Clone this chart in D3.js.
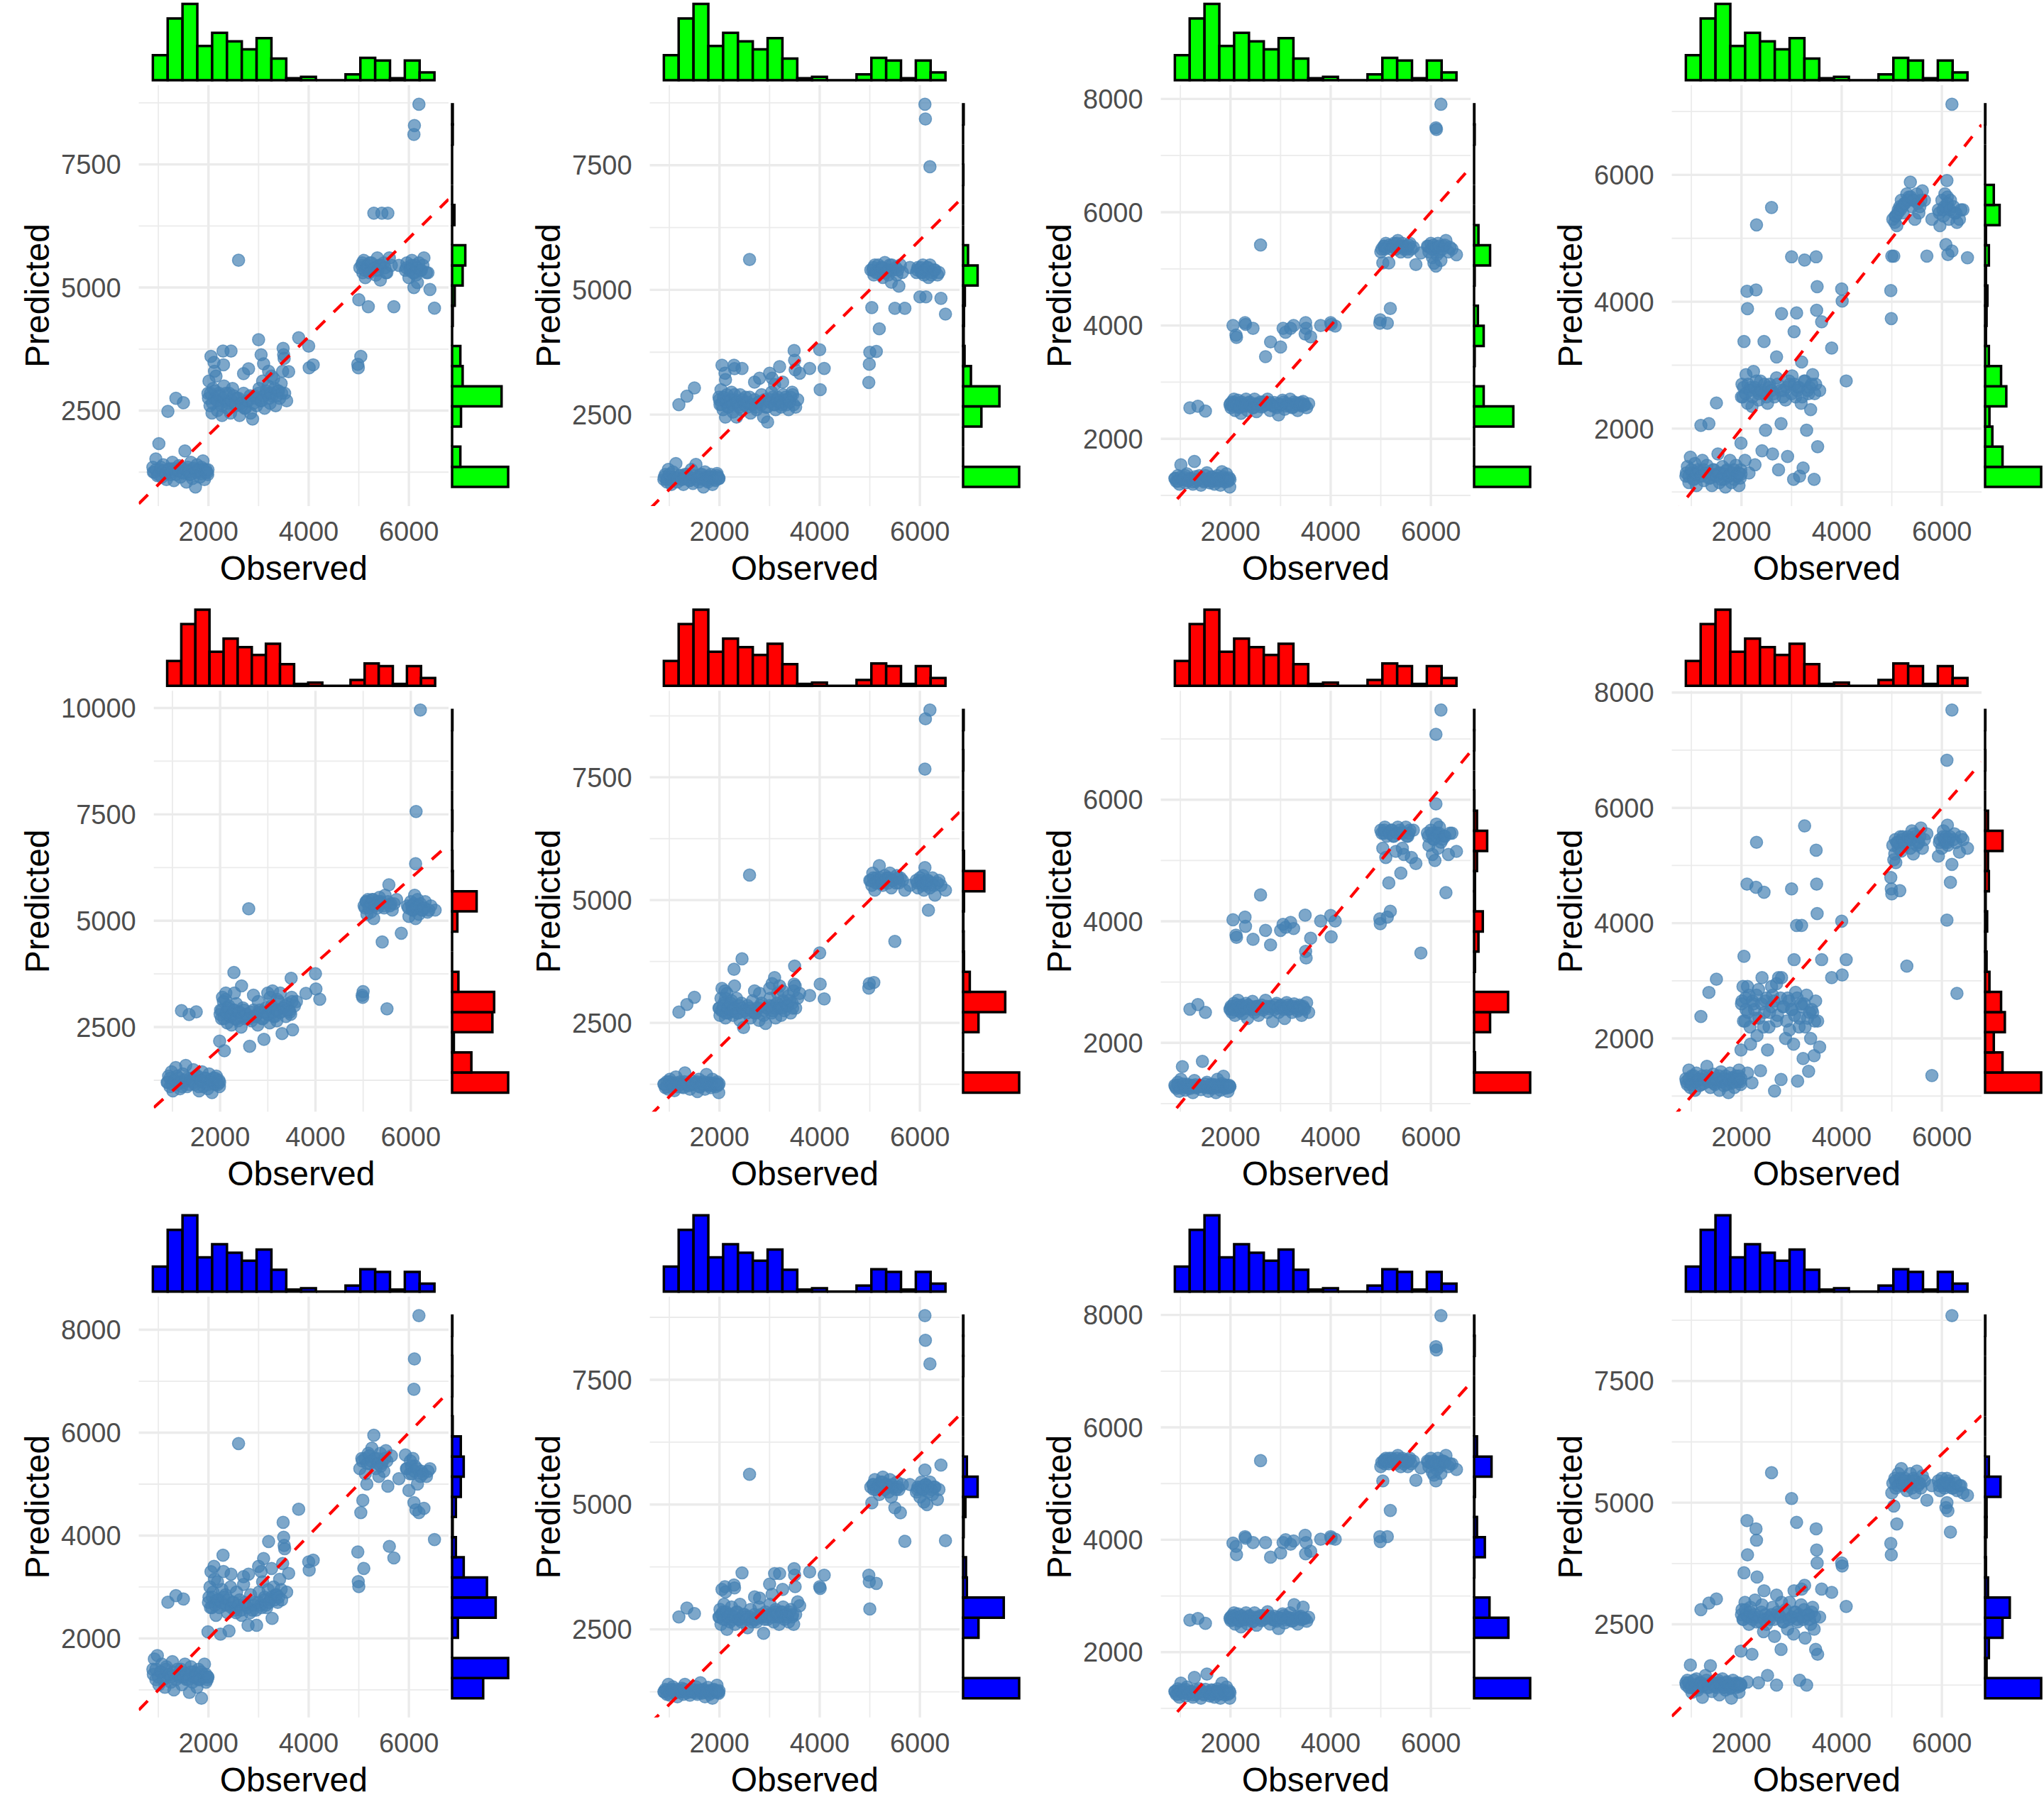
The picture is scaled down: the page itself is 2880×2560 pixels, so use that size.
<!DOCTYPE html>
<html><head><meta charset="utf-8">
<script src="https://cdn.jsdelivr.net/npm/d3@7"></script>
<style>
body{margin:0;background:#fff}
svg{display:block}
text{font-family:"Liberation Sans", Arial, Helvetica, sans-serif}
</style>
</head><body>
<svg id="chart" width="2880" height="2560"></svg>
<script>
// ---------------- DATA ----------------
// Observed values, grouped (same observations in every panel)
const obsLow      = [890,920,950,980,1010,1040,1070,1100,1130,1160,1220,1250,1280,1310,1380,1410,1440,1470,1530,1560,1590,1620,1650,1680,1710,1740,1770,1800,1830,1860,1890,1920,1950,1985];
const obsLowHigh  = [1190,1350,1500];
const obsMid      = [1990,2010,2030,2070,2090,2120,2150,2180,2210,2240,2270,2310,2340,2380,2410,2440,2480,2520,2560,2620,2660,2700,2740,2790,2840,2880,2920,2960,3010,3040,3080,3120,3160,3190,3230,3270,3300,3340,3380,3420,3450,3480,3520,3560];
const obsMidUpper = [2050,2110,2120,2290,2300,2450,2700,2800,3000,3050,3100,3200,3260,3490,3500,3510];
const obsGap      = [3600,3800,4000,4010,4090];
const obsOutlier  = [2600];
const obsHigh     = [4980,4990,5000,5040,5060,5080,5100,5130,5160,5190,5220,5260,5300,5340,5370,5400,5430,5460,5500,5540,5580,5610,5700,5800,5930,5960,6000,6030,6060,6080,6100,6120,6140,6170,6200,6250,6300,6350,6420,6510];
const obsTop      = [6100,6110,6200];
const obsLowCore  = [900,950,1000,1050,1100,1150,1200,1250,1300,1350,1400,1450,1500,1550,1600,1650,1700,1750,1800,1850,1900,1950,1975,1990];
const obsMidCore  = [2000,2040,2080,2130,2170,2220,2260,2300,2350,2400,2460,2500,2550,2600,2650,2720,2780,2830,2900,2950,3000,3060,3110,3150,3210,3250,3320,3360,3400,3460];
const obsHighCore = [5020,5070,5120,5170,5210,5250,5320,5380,5440,5520,5560,5650,5950,6020,6050,6110,6160,6230,6280,6380];
const obsGroups = [obsLow, obsLowHigh, obsMid, obsMidUpper, obsGap, obsOutlier, obsHigh, obsTop, obsLowCore, obsMidCore, obsHighCore];

// Predicted values per panel (same group order as the first eight obs groups)
const pred1 = [
 [1350,1250,1520,1180,1830,1300,1150,1400,1230,1100,1320,1200,1450,1080,1280,1380,1150,1250,1680,1050,1350,1200,1450,1120,1300,950,1400,1250,1150,1350,1480,1100,1300,1200],
 [2485,2750,2660],
 [2850,3100,2600,2450,2950,2750,3200,2500,2850,2650,2400,3000,2700,2550,2850,2450,2950,2650,2750,2400,2600,2850,2550,2700,2450,2330,2800,2600,2950,2700,3100,2550,2850,3000,2650,2800,3150,2600,2900,2750,3050,3300,2850,2700],
 [3600,3480,3300,3710,3430,3710,3250,3350,3940,3635,3450,3300,3200,3765,3635,3560],
 [3290,3980,3810,3370,3430],
 [5553],
 [3440,3370,4750,3600,5450,5300,5550,5200,5400,4610,5500,5350,6510,5250,5600,5450,5150,6510,5500,5300,6510,5600,4610,5450,5350,5500,5200,5400,5550,5300,5000,5450,5250,5100,5500,5350,5600,5300,4960,4580],
 [8107,8290,8720]];
const pred2 = [
 [1200,1300,1150,1400,1250,1100,1350,1200,1520,1150,1280,1200,1100,1300,1250,1180,1400,1120,1500,1250,1150,1300,1200,1050,1350,1250,1150,1200,1300,1100,1250,1180,1320,1220],
 [2700,2870,3035],
 [2850,2700,3000,2600,2800,2450,2900,2650,2750,2950,2550,2800,2450,2700,2900,2600,2750,2850,2650,2530,2700,2800,2600,2750,2900,2450,2650,2350,2800,2950,2700,2600,2850,2750,2650,2900,2800,2700,2600,2850,2950,2700,2650,2800],
 [3490,3330,3200,3490,3420,3425,3150,3230,3330,3230,3100,3460,3150,3784,3590,3400],
 [3330,3426,3800,3000,3426],
 [5610],
 [3145,3510,3750,4645,5400,5300,5500,3765,5350,4220,5450,5250,5550,5400,5300,5500,5154,5400,4630,5300,5075,5500,4630,5450,5350,5450,4860,5350,5500,5300,5400,4860,5450,5250,5500,5350,5400,5300,4830,4515],
 [8720,8426,7468]];
const pred3 = [
 [1300,1250,1350,1200,1540,1280,1320,1220,1380,1260,1300,1200,1600,1250,1350,1180,1300,1240,1400,1280,1220,1330,1260,1200,1300,1350,1250,1180,1420,1300,1240,1380,1280,1150],
 [2546,2575,2489],
 [2600,2550,2650,2700,2500,2600,2680,2550,2450,2620,2580,2700,2500,2650,2600,2550,2700,2480,2620,2560,2650,2600,2700,2500,2580,2640,2550,2420,2600,2680,2520,2620,2590,2700,2550,2650,2600,2500,2620,2580,2660,2600,2550,2620],
 [4000,3830,3790,4050,4020,3950,3450,3710,3620,3950,3880,3950,4000,3850,4050,3950],
 [3800,4000,4050,4020,3990],
 [5421],
 [4041,4099,5300,5105,5400,5350,5450,4041,5105,4300,5400,5450,5350,5500,5400,5300,5450,5350,5400,5300,5450,5350,5076,5280,5400,5300,5450,5200,5100,5350,5050,5250,5450,5300,5150,5400,5500,5300,5350,5250],
 [7491,7462,7905]];
const pred4 = [
 [1250,1400,1150,1550,1300,1200,1450,1100,1350,1250,1500,1180,1300,1420,1220,1100,1350,1270,1600,1150,1300,1400,1200,1080,1350,1250,1500,1150,1300,1200,1420,1250,1100,1350],
 [2050,2078,2404],
 [1770,2700,2500,1500,2850,2400,1300,2650,2350,2900,1430,2600,2450,2750,1650,2550,1974,2400,2700,1600,2500,2800,1350,2078,2600,2450,1560,2700,2830,1200,2500,2650,1250,2400,1380,2750,1974,2550,2300,2850,1200,2700,1715,2600],
 [3373,4165,3890,4186,5212,3373,3130,3813,4709,3528,3823,3050,4657,4709,3865,4238],
 [3683,3269,4201,4010,2751],
 [5486],
 [4176,3735,4720,4720,5250,5350,5200,5450,5500,5600,5400,5550,5700,5650,5885,5500,5600,5300,5700,5400,5600,5750,4720,5300,5450,5200,5600,5350,5700,4900,5500,4745,5300,5600,4800,5400,5250,5300,5450,4694],
 [5911,5650,7113]];
const pred5 = [
 [1200,1350,1100,1450,1000,1250,1550,1150,1300,1050,1400,1200,1600,1100,1300,1250,1500,1150,1350,1000,1250,1450,1100,1300,1200,1050,1400,1250,960,1300,1150,1350,1200,1100],
 [2886,2796,2859],
 [2170,2900,2700,3100,1944,2800,2600,3000,2750,2550,2900,2700,3050,2650,2850,2500,2950,2700,2800,2050,2650,2900,2750,2550,2850,2700,2213,2950,2800,2600,3000,2750,2900,2650,3100,2850,2347,2950,2750,3050,2900,2800,2437,3000],
 [3200,3150,3300,3783,3300,3469,3250,3100,3300,3200,3350,3150,3300,3648,3200,3100],
 [3100,3290,3756,3397,3155],
 [5281],
 [3245,3200,3335,5300,5450,5150,5500,5350,5200,5500,5050,5400,5300,5550,5450,4500,5350,5600,2930,5845,5400,5250,5500,4707,5350,5100,5450,5250,5400,5600,5050,5300,5500,5150,5400,5250,5450,5200,5350,5250],
 [6340,7568,9954]];
const pred6 = [
 [1250,1180,1300,1150,1350,1220,1280,1120,1400,1200,1300,1250,1180,1480,1220,1150,1320,1250,1280,1100,1350,1200,1260,1300,1150,1450,1230,1280,1180,1350,1250,1200,1300,1080],
 [2720,2874,3021],
 [2800,2650,3000,2750,2900,2600,3100,2700,2850,2950,2650,2800,3000,2700,2550,2900,2406,2750,2850,2600,2950,2700,2800,2550,2900,2650,2487,2800,3000,2700,2850,2600,3100,2800,2650,2950,2750,2850,3050,2700,2900,3150,2800,3000],
 [3200,3150,3000,3590,3250,3803,3150,3100,3200,3300,3422,3250,3150,3289,3656,3250],
 [3100,3055,3924,3289,2988],
 [5508],
 [3208,3300,5400,5300,5550,3322,5200,5450,5350,5700,5400,5300,5500,5450,5350,5550,5250,5400,4158,5500,5350,5450,5200,5300,5400,5250,5450,5350,5500,5200,5660,5300,5400,4793,5250,5450,5100,5350,5300,5200],
 [7667,8690,8870]];
const pred7 = [
 [1300,1250,1350,1200,1400,1608,1280,1220,1320,1250,1300,1180,1380,1260,1300,1230,1694,1280,1350,1200,1260,1320,1250,1300,1180,1400,1280,1220,1330,1450,1250,1300,1200,1280],
 [2553,2628,2500],
 [2550,2600,2500,2650,2450,2580,2700,2520,2620,2480,2560,2650,2400,2600,2550,2680,2500,2600,2450,2620,2570,2700,2500,2600,2350,2550,2650,2500,2620,2580,2400,2660,2550,2600,2500,2640,2580,2520,2620,2450,2600,2550,2660,2500],
 [4024,3772,3735,4067,3917,3702,3850,3611,3850,3950,3900,3980,3880,4100,3504,3396],
 [3720,4003,4094,3745,4003],
 [4433],
 [4040,3960,5500,5200,5450,5550,5050,4067,4631,4164,5500,5400,5150,5550,5450,4792,5200,5100,5550,5400,5500,5050,4950,3477,5450,5250,5500,5100,5350,5000,5931,5450,5200,5550,5300,5400,4470,5100,5450,5150],
 [7075,5600,7477]];
const pred8 = [
 [1300,1200,1450,1150,1350,1250,1100,1400,1280,1180,1350,1220,1300,1516,1150,1250,1380,1200,1300,1100,1420,1250,1180,1350,1280,1060,1400,1220,1300,1150,1350,1250,1450,1200],
 [2380,2798,3026],
 [1800,2650,2900,2300,2500,1400,2750,1900,1230,2600,2350,2050,2850,1440,3054,2200,2650,1800,2450,2750,1088,2300,3054,1288,2550,2000,2700,2150,2500,1900,2800,1260,2350,2600,1650,2200,2750,1430,2000,2450,1700,2650,2300,1850],
 [3424,4678,2900,4621,5402,4536,2950,3054,4593,3367,3960,3960,5687,5265,4678,4165],
 [3367,3054,4034,3100,3367],
 [2900],
 [4792,4593,4507,5100,5200,5050,5400,5300,4564,5250,5500,5350,3254,5450,5300,5600,5200,5500,5350,5400,5650,5300,5550,1356,5162,5450,5300,5600,5400,5500,4051,5350,5450,4707,5020,5550,2780,5230,5450,5300],
 [6826,5700,7698]];
const pred9 = [
 [1400,1600,1200,1668,1100,1350,1500,1250,1050,1450,1300,1150,1550,1000,1400,1250,1350,1100,1500,1200,1300,950,1450,1150,1350,1250,1050,1400,1200,837,1300,1500,1150,1250],
 [2703,2831,2767],
 [2128,2800,3000,2600,2900,2700,2450,3100,2750,2083,2950,2650,2850,2500,2147,3000,2700,2550,2900,2750,2450,3050,2650,2255,2850,2550,2700,2255,2900,2650,3100,2800,2600,2950,2750,2390,3000,2850,2700,3150,2950,3457,3744,2900],
 [3297,3400,3150,3617,3300,3250,3201,3250,3400,3300,3553,3885,3361,4256,3968,3808],
 [3265,4511,3489,3329,3521],
 [5789],
 [3681,3105,3009,4447,5500,4684,3361,5200,5000,5600,5400,5700,5949,5300,5500,5150,5600,5400,5250,5650,4959,3789,3565,5106,5566,5300,4876,5450,5200,5500,4640,5350,4500,5000,4447,5250,4530,5150,5300,3923],
 [6844,7432,8275]];
const pred10 = [
 [1250,1300,1200,1400,1180,1280,1350,1220,1300,1150,1250,1320,1200,1400,1260,1180,1300,1240,1350,1200,1280,1430,1220,1300,1150,1260,1340,1200,1280,1120,1300,1250,1380,1220],
 [2750,2928,2816],
 [2750,2900,2600,2850,3000,2700,2500,2800,2650,2950,2750,2600,2850,2700,3000,2650,2800,2750,2533,2900,2700,2800,2650,2950,2750,2421,2850,2700,3000,2800,2650,2900,2750,2600,2850,2950,2700,2800,2650,2900,2750,2600,2800,3050],
 [3300,3355,3250,3388,3330,3632,3150,3125,3408,3200,3618,3618,3300,3717,3586,3355],
 [2974,3651,3355,3322,3586],
 [5606],
 [3586,3454,2908,5033,5400,5300,5500,3421,5350,5200,5450,5550,5300,5400,5250,5500,5150,5350,4935,5450,5300,4836,4263,5400,5250,5350,5150,5450,5300,5050,5691,5400,5000,5250,5450,5200,5350,5100,5790,4276],
 [8784,8290,7817]];
const pred11 = [
 [1300,1250,1350,1200,1450,1280,1320,1220,1380,1260,1300,1200,1550,1250,1350,1180,1300,1240,1610,1280,1220,1330,1260,1200,1300,1350,1250,1180,1450,1300,1240,1380,1280,1180],
 [2571,2600,2513],
 [2600,2560,2650,2700,2500,2620,2680,2550,2450,2620,2580,2700,2500,2650,2600,2540,2700,2480,2620,2560,2650,2600,2720,2500,2580,2640,2550,2420,2600,2680,2520,2620,2590,2700,2550,2845,2600,2500,2620,2580,2800,2600,2550,2620],
 [3940,3882,3736,4056,4030,3951,3950,3690,3765,3950,4000,3920,3980,4080,3750,3950],
 [3794,4009,4056,4030,4009],
 [5408],
 [4056,3969,5300,5047,5400,5350,5450,4056,5350,4522,5450,5400,5350,5500,5400,5300,5450,5350,5400,5300,5450,5350,5058,5280,5400,5300,5450,5200,5150,5350,5047,5250,5450,5300,5180,5400,5500,5300,5350,5250],
 [7435,7377,7988]];
const pred12 = [
 [1300,1350,1200,1663,1100,1250,1180,1380,1150,1300,1000,1250,1450,1200,1650,1120,1300,1220,1350,1050,1280,1380,1200,1150,1320,1250,1180,980,1350,1280,1200,1300,1100,1250],
 [2802,2935,3022],
 [1950,2800,2600,2950,2700,1314,2500,2850,1884,2650,3000,3472,1300,2550,2900,2350,2700,1450,2600,2850,2250,1250,2700,1984,2550,2800,2400,2950,2650,2300,2750,2550,1350,2900,2600,2219,1250,2700,2500,2850,2400,1984,1884,2650],
 [3559,4631,3927,4463,4229,3190,3100,2950,5086,3190,4597,3224,3300,4463,4028,3760],
 [3224,3157,3760,3700,2868],
 [5616],
 [4162,3927,5200,4932,5500,5300,4564,5600,5400,5700,5350,5500,5250,5450,5600,5300,5500,5200,5650,5400,5300,5550,5050,5350,5450,5250,5500,5350,5400,4899,5000,4832,5450,4396,5300,5450,5250,5350,5200,5150],
 [5500,5350,8845]];
const predPanels = [pred1,pred2,pred3,pred4,pred5,pred6,pred7,pred8,pred9,pred10,pred11,pred12];

// Dense cluster cores, one row per panel
const predLowCore = [
 [1250,1300,1200,1350,1280,1220,1300,1250,1320,1200,1280,1350,1230,1300,1260,1200,1330,1250,1290,1220,1310,1260,1240,1300],
 [1250,1200,1300,1180,1250,1220,1280,1200,1250,1300,1180,1230,1270,1200,1250,1300,1220,1180,1260,1240,1200,1280,1250,1220],
 [1300,1250,1320,1280,1350,1260,1300,1240,1330,1280,1300,1260,1350,1290,1250,1320,1280,1300,1260,1330,1290,1250,1310,1280],
 [1300,1250,1350,1200,1280,1320,1250,1350,1300,1220,1280,1350,1250,1300,1200,1280,1330,1250,1300,1350,1250,1300,1220,1280],
 [1200,1300,1150,1250,1350,1200,1100,1250,1300,1150,1250,1200,1350,1100,1250,1200,1300,1150,1250,1200,1300,1150,1250,1200],
 [1250,1200,1300,1250,1220,1280,1250,1200,1300,1250,1230,1270,1250,1300,1200,1260,1240,1280,1250,1220,1270,1250,1230,1260],
 [1280,1300,1260,1320,1280,1300,1250,1290,1310,1270,1300,1280,1320,1260,1300,1280,1310,1270,1290,1300,1280,1260,1300,1280],
 [1250,1300,1200,1350,1250,1300,1200,1280,1350,1250,1300,1220,1280,1350,1250,1300,1200,1280,1320,1250,1300,1350,1250,1300],
 [1300,1400,1250,1350,1200,1400,1300,1250,1350,1200,1300,1400,1250,1300,1200,1350,1250,1300,1200,1350,1250,1300,1200,1250],
 [1250,1280,1220,1300,1260,1240,1280,1250,1300,1230,1270,1250,1290,1230,1260,1280,1240,1270,1250,1230,1280,1260,1240,1270],
 [1300,1250,1320,1280,1340,1260,1300,1240,1330,1280,1300,1260,1340,1290,1250,1320,1280,1300,1260,1330,1290,1250,1310,1280],
 [1250,1300,1200,1350,1250,1200,1300,1250,1350,1200,1300,1250,1200,1300,1250,1200,1300,1250,1200,1280,1250,1220,1280,1250]];
const predMidCore = [
 [2750,2850,2650,2900,2700,2800,2600,2750,2850,2650,2700,2800,2600,2750,2650,2550,2700,2800,2650,2750,2850,2700,2800,2900,2750,2850,2950,2800,2900,2850],
 [2800,2700,2850,2750,2650,2800,2700,2900,2750,2650,2800,2700,2750,2850,2700,2650,2750,2700,2800,2650,2750,2850,2700,2800,2750,2700,2850,2800,2750,2900],
 [2620,2580,2640,2600,2560,2650,2600,2580,2630,2600,2550,2620,2600,2650,2580,2610,2640,2600,2570,2620,2600,2650,2580,2620,2600,2560,2630,2600,2640,2590],
 [2500,2650,2550,2700,2600,2500,2650,2750,2550,2600,2700,2500,2650,2600,2550,2700,2600,2500,2650,2750,2550,2700,2600,2650,2500,2750,2600,2650,2700,2550],
 [2800,2900,2700,2850,2950,2750,2800,2900,2700,2850,2750,2900,2800,2700,2850,2750,2800,2900,2700,2850,2800,2950,2850,2750,2900,2850,2950,3000,2900,2850],
 [2800,2750,2850,2700,2800,2900,2750,2800,2700,2850,2800,2750,2700,2800,2750,2700,2800,2850,2750,2800,2850,2750,2800,2900,2850,2800,2900,2850,2950,2800],
 [2560,2600,2540,2620,2580,2550,2600,2570,2620,2560,2590,2550,2600,2580,2540,2600,2560,2590,2620,2570,2600,2550,2580,2620,2560,2600,2580,2550,2600,2570],
 [2600,2300,2700,2450,2200,2650,2500,2750,2350,2600,2450,2700,2200,2550,2650,2400,2700,2550,2300,2650,2500,2400,2700,2200,2550,2600,2350,2450,2500,2300],
 [2700,2600,2800,2650,2750,2600,2700,2800,2650,2750,2600,2700,2500,2650,2550,2700,2600,2500,2650,2550,2700,2600,2750,2650,2700,2800,2750,2850,2800,2750],
 [2750,2800,2700,2850,2750,2800,2700,2750,2850,2700,2750,2800,2700,2750,2650,2700,2750,2800,2700,2750,2800,2750,2850,2800,2750,2850,2800,2750,2850,2800],
 [2620,2580,2640,2600,2560,2650,2600,2580,2630,2600,2560,2620,2600,2650,2580,2610,2640,2600,2570,2620,2600,2650,2580,2620,2600,2560,2630,2600,2640,2600],
 [2700,2600,2800,2650,2750,2600,2700,2550,2650,2750,2600,2500,2650,2700,2600,2750,2650,2550,2700,2600,2650,2750,2600,2700,2650,2800,2700,2600,2750,2650]];
const predHighCore = [
 [5400,5500,5350,5450,5300,5500,5400,5350,5450,5400,5300,5450,5400,5350,5450,5300,5400,5350,5450,5300],
 [5400,5450,5350,5500,5400,5450,5350,5400,5500,5450,5400,5350,5400,5450,5350,5400,5450,5300,5400,5350],
 [5350,5400,5380,5420,5350,5400,5450,5380,5400,5350,5420,5380,5400,5350,5420,5380,5400,5350,5420,5380],
 [5300,5350,5400,5450,5500,5550,5600,5650,5600,5550,5500,5600,5400,5450,5500,5550,5450,5500,5400,5450],
 [5350,5450,5300,5400,5500,5350,5450,5400,5300,5450,5350,5400,5300,5350,5250,5300,5350,5250,5300,5250],
 [5400,5450,5350,5400,5450,5350,5400,5450,5400,5350,5450,5400,5350,5400,5300,5350,5400,5350,5300,5400],
 [5450,5500,5400,5450,5500,5400,5450,5500,5450,5400,5450,5500,5400,5450,5350,5400,5450,5350,5400,5450],
 [5350,5450,5400,5500,5450,5400,5500,5450,5550,5400,5500,5450,5400,5500,5450,5400,5500,5450,5400,5500],
 [5300,5450,5500,5400,5550,5450,5500,5400,5350,5500,5450,5550,5300,5200,5350,5250,5300,5150,5200,5250],
 [5350,5400,5300,5400,5350,5450,5400,5350,5400,5300,5350,5400,5300,5350,5300,5400,5350,5300,5350,5300],
 [5380,5420,5400,5450,5380,5420,5450,5400,5420,5380,5420,5400,5380,5350,5400,5380,5350,5400,5380,5350],
 [5400,5450,5350,5500,5400,5450,5350,5400,5450,5350,5400,5450,5350,5400,5300,5400,5350,5300,5400,5350]];

// Marginal histogram counts (19 equal-width bins over each variable's range)
const obsCounts = [38,94,116,52,72,59,47,64,33,3,5,0,0,9,34,30,3,30,12];
const predCounts = [
 [170,25,0,27,150,32,25,0,2,8,32,40,0,7,0,0,0,2,2],
 [193,0,0,63,125,27,5,2,3,6,50,17,0,0,0,1,0,0,2],
 [193,0,0,135,33,0,2,33,13,0,2,55,15,0,0,0,0,2,1],
 [193,60,25,15,73,55,13,3,5,8,3,13,3,50,30,0,0,0,1],
 [160,55,5,115,120,18,0,0,15,70,2,1,0,1,0,0,0,0,1],
 [193,0,0,53,145,23,3,2,1,3,73,3,0,0,0,0,1,0,2],
 [193,3,0,55,117,0,3,15,30,3,3,10,45,10,1,0,0,1,1],
 [193,60,30,68,55,15,5,2,7,2,13,10,60,10,0,0,1,0,1],
 [107,193,0,20,150,120,40,13,2,13,30,40,30,2,0,1,1,0,1],
 [193,0,0,53,140,13,10,0,2,8,50,13,0,0,0,0,1,1,1],
 [193,0,0,118,53,0,1,37,10,1,3,60,10,0,0,0,0,2,1],
 [193,5,13,60,85,10,3,2,5,5,53,13,0,0,0,0,0,0,1]];

// Axis tick labels
const xTickValues = [2000,4000,6000];
const yTickValues = [
 [2500,5000,7500],[2500,5000,7500],[2000,4000,6000,8000],[2000,4000,6000],
 [2500,5000,7500,10000],[2500,5000,7500],[2000,4000,6000],[2000,4000,6000,8000],
 [2000,4000,6000,8000],[2500,5000,7500],[2000,4000,6000,8000],[2500,5000,7500]];
const xTitle = "Observed", yTitle = "Predicted";
const rowFills = ["#00FF00","#FF0000","#0000FF"];

// ---------------- DRAW ----------------
const svg = d3.select("#chart");
const cellW = 720, cellH = 2560/3;
const nBins = 19;
const obsAll = obsGroups.flat();
const xExt = d3.extent(obsAll);
const xPad = (xExt[1]-xExt[0])*0.05;
const xDomain = [xExt[0]-xPad, xExt[1]+xPad];

function minorBreaks(majors, dom){
  const step = majors[1]-majors[0];
  const ext = [majors[0]-step, ...majors, majors[majors.length-1]+step];
  const out = [];
  for (let i=0;i<ext.length-1;i++){ const m=(ext[i]+ext[i+1])/2; if (m>=dom[0] && m<=dom[1]) out.push(m); }
  return out;
}

predPanels.forEach((basic, k) => {
  const groups = [...basic, predLowCore[k], predMidCore[k], predHighCore[k]];
  const row = Math.floor(k/4), col = k%4;
  const g = svg.append("g").attr("transform", `translate(${col*cellW},${row*cellH})`);
  const pts = [];
  groups.forEach((arr, gi) => {
    if (arr.length !== obsGroups[gi].length) console.warn("length mismatch panel", k+1, "group", gi, arr.length, obsGroups[gi].length);
    arr.forEach((p, j) => { if (j < obsGroups[gi].length) pts.push([obsGroups[gi][j], p]); });
  });
  const yExt = d3.extent(pts, d => d[1]);
  const yPad = (yExt[1]-yExt[0])*0.05;
  const yDomain = [yExt[0]-yPad, yExt[1]+yPad];

  const top = 120, bottom = 713, right = 632;
  const ticks = yTickValues[k];
  const tmp = g.append("g");
  let maxW = 0;
  ticks.forEach(t => {
    const tt = tmp.append("text").attr("font-size", 38).text(String(t));
    maxW = Math.max(maxW, tt.node().getComputedTextLength());
  });
  tmp.remove();
  const labelLeft = 86;
  const left = labelLeft + maxW + 25;

  const x = d3.scaleLinear().domain(xDomain).range([left, right]);
  const y = d3.scaleLinear().domain(yDomain).range([bottom, top]);

  // grid
  const grid = g.append("g");
  minorBreaks(xTickValues, xDomain).forEach(v => grid.append("line")
    .attr("x1", x(v)).attr("x2", x(v)).attr("y1", top).attr("y2", bottom)
    .attr("stroke", "#EBEBEB").attr("stroke-width", 1.8));
  minorBreaks(ticks, yDomain).forEach(v => grid.append("line")
    .attr("x1", left).attr("x2", right).attr("y1", y(v)).attr("y2", y(v))
    .attr("stroke", "#EBEBEB").attr("stroke-width", 1.8));
  xTickValues.forEach(v => grid.append("line")
    .attr("x1", x(v)).attr("x2", x(v)).attr("y1", top).attr("y2", bottom)
    .attr("stroke", "#EBEBEB").attr("stroke-width", 3.4));
  ticks.forEach(v => grid.append("line")
    .attr("x1", left).attr("x2", right).attr("y1", y(v)).attr("y2", y(v))
    .attr("stroke", "#EBEBEB").attr("stroke-width", 3.4));

  // points
  g.append("g").selectAll("circle").data(pts).join("circle")
    .attr("cx", d => x(d[0])).attr("cy", d => y(d[1])).attr("r", 8.6)
    .attr("fill", "#4682B4").attr("fill-opacity", 0.7)
    .attr("stroke", "#4682B4").attr("stroke-opacity", 0.7).attr("stroke-width", 1.5);

  // y = x reference line, clipped to panel
  const clipId = "clip" + k;
  g.append("clipPath").attr("id", clipId).append("rect")
    .attr("x", left).attr("y", top).attr("width", right-left).attr("height", bottom-top);
  g.append("line").attr("clip-path", `url(#${clipId})`)
    .attr("x1", x(xDomain[0])).attr("y1", y(xDomain[0]))
    .attr("x2", x(xDomain[1])).attr("y2", y(xDomain[1]))
    .attr("stroke", "#FF0000").attr("stroke-width", 4.2).attr("stroke-dasharray", "18,17");

  // axis labels
  ticks.forEach(v => g.append("text").attr("x", left-25).attr("y", y(v)).attr("dy", "0.36em")
    .attr("text-anchor", "end").attr("font-size", 38).attr("fill", "#4D4D4D").text(String(v)));
  xTickValues.forEach(v => g.append("text").attr("x", x(v)).attr("y", 762)
    .attr("text-anchor", "middle").attr("font-size", 38).attr("fill", "#4D4D4D").text(String(v)));
  g.append("text").attr("x", (left+right)/2).attr("y", 817).attr("text-anchor", "middle")
    .attr("font-size", 48).attr("fill", "#000").text(xTitle);
  g.append("text").attr("transform", `translate(69,${(top+bottom)/2}) rotate(-90)`)
    .attr("text-anchor", "middle").attr("font-size", 48).attr("fill", "#000").text(yTitle);

  const fill = rowFills[row];
  // top marginal histogram (observed)
  const xw = (xExt[1]-xExt[0])/nBins;
  const hTop = d3.scaleLinear().domain([0, d3.max(obsCounts)]).range([113, 5.6]);
  g.append("g").selectAll("path").data(obsCounts).join("path")
    .attr("d", (c, i) => {
      const x0 = x(xExt[0]+i*xw), x1 = x(xExt[0]+(i+1)*xw);
      return `M${x0},${hTop(0)}H${x1}V${hTop(c)}H${x0}Z`;
    })
    .attr("fill", fill).attr("stroke", "#000").attr("stroke-width", 3.5).attr("stroke-linejoin", "miter");

  // right marginal histogram (predicted)
  const counts = predCounts[k];
  const yw = (yExt[1]-yExt[0])/nBins;
  const wRight = d3.scaleLinear().domain([0, d3.max(counts)]).range([637, 716]);
  g.append("g").selectAll("path").data(counts).join("path")
    .attr("d", (c, i) => {
      const y0 = y(yExt[0]+i*yw), y1 = y(yExt[0]+(i+1)*yw);
      return `M${wRight(0)},${y0}V${y1}H${wRight(c)}V${y0}Z`;
    })
    .attr("fill", fill).attr("stroke", "#000").attr("stroke-width", 3.5).attr("stroke-linejoin", "miter");
});
</script>
</body></html>
